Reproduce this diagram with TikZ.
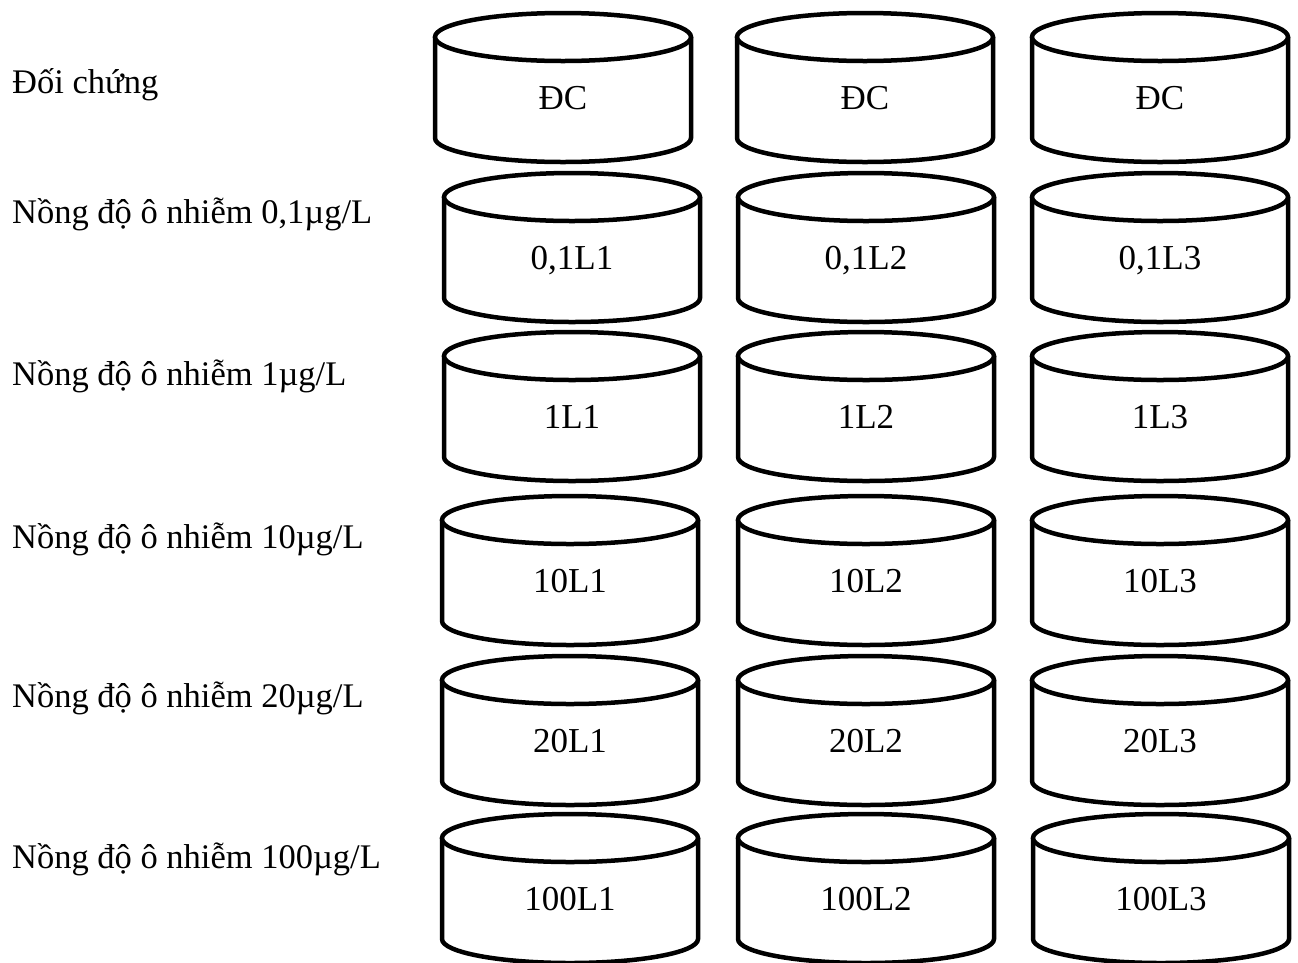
\documentclass[tikz,border=0pt]{standalone}
\usepackage{fontspec}
\setmainfont{Liberation Serif}
\tikzset{
  tankline/.style={draw=black, line width=4.5pt, fill=white},
  tanktext/.style={inner sep=0pt, anchor=base, font=\fontsize{35}{42}\selectfont},
  rowlabel/.style={inner sep=0pt, anchor=base west, font=\fontsize{34.5}{42}\selectfont}
}
\newcommand\tank[4]{%
  \pgfmathsetmacro\tkL{#2-128}%
  \pgfmathsetmacro\tkR{#2+128}%
  \pgfmathsetmacro\tkB{#3+101}%
  \pgfmathsetmacro\tkBc{#3+114.25}%
  \pgfmathsetmacro\tkBb{#3+125}%
  \pgfmathsetmacro\tkLc{#2-70.7}%
  \pgfmathsetmacro\tkRc{#2+70.7}%
  \pgfmathsetmacro\tkT{#3+72}%
  \draw[tankline] (\tkL,#3) -- (\tkL,\tkB) .. controls (\tkL,\tkBc) and (\tkLc,\tkBb) .. (#2,\tkBb)
     .. controls (\tkRc,\tkBb) and (\tkR,\tkBc) .. (\tkR,\tkB) -- (\tkR,#3);
  \draw[tankline] (#2,#3) ellipse [x radius=128pt, y radius=24pt];
  \node[tanktext] (#1) at (#2,\tkT) {#4};
}
\begin{document}
\begin{tikzpicture}[x=1pt,y=-1pt]
\useasboundingbox (0,0) rectangle (1298,962);
% row labels
\node[rowlabel] (l1) at (12,93) {Đối chứng};
\node[rowlabel] (l2) at (12,223) {Nồng độ ô nhiễm 0,1µg/L};
\node[rowlabel] (l3) at (12,385) {Nồng độ ô nhiễm 1µg/L};
\node[rowlabel] (l4) at (12,548) {Nồng độ ô nhiễm 10µg/L};
\node[rowlabel] (l5) at (12,707) {Nồng độ ô nhiễm 20µg/L};
\node[rowlabel] (l6) at (12,868) {Nồng độ ô nhiễm 100µg/L};
% tanks
\tank{a1}{563}{37}{ĐC}
\tank{a2}{865}{37}{ĐC}
\tank{a3}{1160}{37}{ĐC}
\tank{b1}{572}{197}{0,1L1}
\tank{b2}{866}{197}{0,1L2}
\tank{b3}{1160}{197}{0,1L3}
\tank{c1}{572}{356}{1L1}
\tank{c2}{866}{356}{1L2}
\tank{c3}{1160}{356}{1L3}
\tank{d1}{570}{520}{10L1}
\tank{d2}{866}{520}{10L2}
\tank{d3}{1160}{520}{10L3}
\tank{e1}{570}{680}{20L1}
\tank{e2}{866}{680}{20L2}
\tank{e3}{1160}{680}{20L3}
\tank{f1}{570}{838}{100L1}
\tank{f2}{866}{838}{100L2}
\tank{f3}{1161}{838}{100L3}
\end{tikzpicture}
\end{document}
